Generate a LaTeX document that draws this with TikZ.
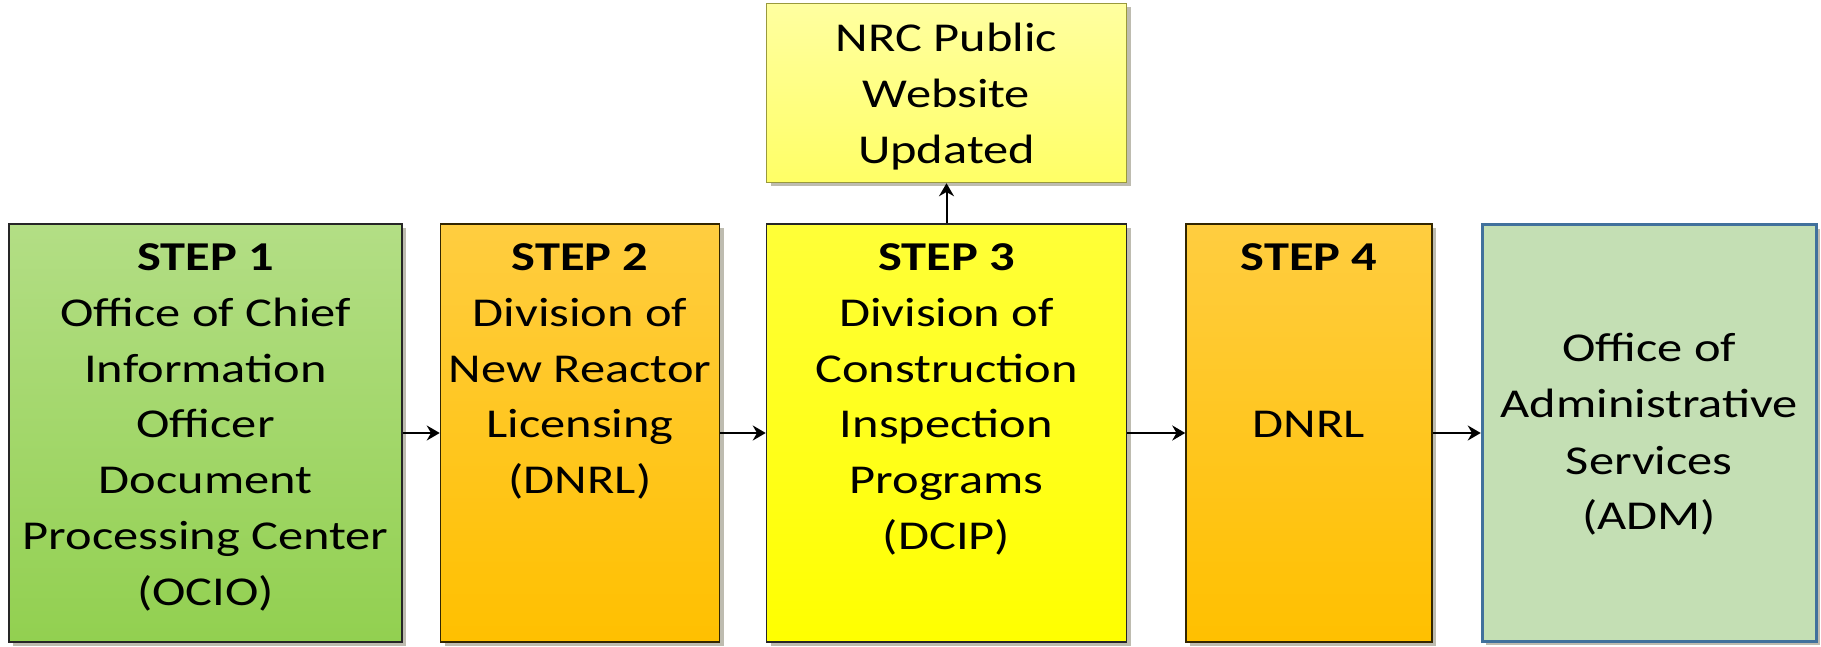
\documentclass[tikz,border=0pt]{standalone}
\usepackage{fontspec}
\setmainfont{Carlito}[FakeStretch=1.23]
\usepackage{xcolor}
\usepackage{tikz}
\usetikzlibrary{arrows.meta,positioning,shadows}
\definecolor{green_t}{RGB}{179,222,133}
\definecolor{green_b}{RGB}{146,208,80}
\definecolor{orange_t}{RGB}{255,205,64}
\definecolor{orange_b}{RGB}{255,192,0}
\definecolor{yellow_t}{RGB}{255,255,56}
\definecolor{yellow_b}{RGB}{255,255,0}
\definecolor{pale_t}{RGB}{255,255,160}
\definecolor{pale_b}{RGB}{255,255,102}
\definecolor{adm_fill}{RGB}{196,223,180}
\definecolor{adm_line}{RGB}{65,113,156}
\definecolor{shade_g}{RGB}{190,188,176}
% largeur, hauteur, premiere ligne, texte
\newcommand{\boxtext}[4]{\parbox[c][#2][t]{#1}{\centering\rule{0pt}{#3}#4}}
\tikzset{
  flownode/.style = {inner sep=0pt, align=center, line width=1.5pt,
    font=\fontsize{41}{56}\selectfont,
    drop shadow={shadow xshift=4pt, shadow yshift=-4pt, fill=shade_g, opacity=1}},
  box_g/.style = {flownode, draw=black!85, top color=green_t, bottom color=green_b},% etape 1
  box_o/.style = {flownode, draw=black!80!orange_b, top color=orange_t, bottom color=orange_b},% etapes 2 et 4
  box_y/.style = {flownode, draw=black!85, top color=yellow_t, bottom color=yellow_b},% etape 3
  box_w/.style = {flownode, draw=black!40!pale_b, top color=pale_t, bottom color=pale_b},% site web
  box_a/.style = {flownode, draw=adm_line, fill=adm_fill, line width=3pt}% bureau ADM
}

\begin{document}
\begin{tikzpicture}[x=1pt, y=1pt, ->, >={Stealth[length=13pt,width=15pt]}, line width=2pt]
\useasboundingbox (0,0) rectangle (1821,646);
\node [box_g] (s1) at (205.5,213) {\boxtext{393pt}{418pt}{46pt}{\textbf{STEP 1}\\Office of Chief\\Information\\Officer\\Document\\Processing Center\\(OCIO)}};
\node [box_o, right=37pt of s1] (s2) {\boxtext{279pt}{418pt}{46pt}{\textbf{STEP 2}\\Division of\\New Reactor\\Licensing\\(DNRL)}};
\node [box_y, right=45.5pt of s2] (s3) {\boxtext{360pt}{418pt}{46pt}{\textbf{STEP 3}\\Division of\\Construction\\Inspection\\Programs\\(DCIP)}};
\node [box_o, right=58pt of s3] (s4) {\boxtext{246pt}{418pt}{46pt}{\textbf{STEP 4}\\[112pt]DNRL}};
\node [box_a, right=48pt of s4] (adm) {\boxtext{334pt}{416pt}{137pt}{Office of\\Administrative\\Services\\(ADM)}};
\node [box_w, above=40pt of s3] (web) {\boxtext{360pt}{179pt}{48.5pt}{NRC Public\\Website\\Updated}};
\draw (s1.east) -- (s2.west);
\draw (s2.east) -- (s3.west);
\draw (s3.east) -- (s4.west);
\draw (s4.east) -- (adm.west);
\draw (s3.north) -- (web.south);
\end{tikzpicture}
\end{document}
